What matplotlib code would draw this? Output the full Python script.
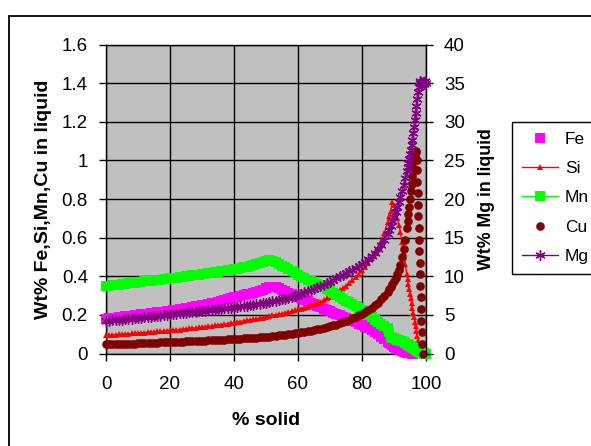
import matplotlib
matplotlib.use("Agg")
import matplotlib.pyplot as plt
from matplotlib.lines import Line2D
from matplotlib.patches import Rectangle

plt.rcParams['font.family'] = ['Liberation Sans', 'DejaVu Sans']

nan = float('nan')

# % solid (shared x values)
x_fs = [0, 1, 2, 3, 4, 5, 6, 7, 8, 9,
        10, 11, 12, 13, 14, 15, 16, 17, 18, 19,
        20, 21, 22, 23, 24, 25, 26, 27, 28, 29,
        30, 31, 32, 33, 34, 35, 36, 37, 38, 39,
        40, 41, 42, 43, 44, 45, 46, 47, 48, 49,
        50, 51, 52, 53, 54, 55, 56, 57, 58, 59,
        60, 61, 62, 63, 64, 65, 66, 67, 68, 69,
        70, 71, 72, 73, 74, 75, 76, 77, 78, 79,
        80, 81, 82, 83, 84, 85, 86, 87, 88,
        88.5, 89, 89.5, 90, 90.5, 91, 91.5, 92, 92.5, 93, 93.5, 94,
        94.25, 94.5, 94.75, 95, 95.25, 95.5, 95.75, 96, 96.25, 96.5, 96.75, 97,
        97.25, 97.5, 97.75, 98, 98.25, 98.5, 98.75, 99, 99.25, 99.5, 99.75, 100]

fe = [0.180, 0.182, 0.184, 0.186, 0.188, 0.190, 0.192, 0.194, 0.196, 0.198,
      0.200, 0.202, 0.204, 0.206, 0.208, 0.211, 0.213, 0.215, 0.217, 0.220,
      0.222, 0.224, 0.227, 0.229, 0.232, 0.235, 0.238, 0.241, 0.244, 0.247,
      0.250, 0.253, 0.257, 0.260, 0.264, 0.268, 0.272, 0.276, 0.281, 0.285,
      0.290, 0.294, 0.298, 0.302, 0.306, 0.310, 0.315, 0.320, 0.325, 0.331,
      0.337, 0.342, 0.345, 0.342, 0.337, 0.330, 0.323, 0.315, 0.307, 0.300,
      0.292, 0.285, 0.278, 0.270, 0.263, 0.255, 0.248, 0.240, 0.233, 0.225,
      0.218, 0.211, 0.204, 0.197, 0.190, 0.183, 0.176, 0.169, 0.162, 0.155,
      0.148, 0.139, 0.130, 0.120, 0.110, 0.099, 0.088, 0.074, 0.060,
      0.054, 0.048, 0.042, 0.036, 0.031, 0.026, 0.022, 0.018, 0.014, 0.010, 0.007, 0.005,
      0.004, 0.003, 0.002, 0.002, 0.001, 0.0, 0.0, 0.0, nan, nan, nan, nan,
      nan, nan, nan, nan, nan, nan, nan, nan, nan, nan, nan, nan]

si = [0.095, 0.096, 0.097, 0.098, 0.099, 0.100, 0.101, 0.102, 0.104, 0.105,
      0.106, 0.107, 0.108, 0.110, 0.111, 0.112, 0.114, 0.115, 0.117, 0.118,
      0.120, 0.121, 0.123, 0.124, 0.126, 0.128, 0.130, 0.131, 0.133, 0.135,
      0.137, 0.139, 0.141, 0.143, 0.145, 0.147, 0.150, 0.152, 0.155, 0.157,
      0.160, 0.162, 0.165, 0.168, 0.171, 0.174, 0.177, 0.180, 0.183, 0.186,
      0.190, 0.193, 0.197, 0.200, 0.204, 0.207, 0.211, 0.215, 0.219, 0.223,
      0.228, 0.233, 0.238, 0.243, 0.249, 0.255, 0.262, 0.269, 0.277, 0.286,
      0.295, 0.305, 0.315, 0.327, 0.340, 0.352, 0.365, 0.380, 0.395, 0.412,
      0.430, 0.450, 0.470, 0.494, 0.520, 0.548, 0.580, 0.625, 0.680,
      0.710, 0.740, 0.785, 0.770, 0.735, 0.700, 0.665, 0.630, 0.575, 0.520, 0.465, 0.410,
      0.385, 0.360, 0.335, 0.310, 0.285, 0.260, 0.235, 0.210, 0.188, 0.165, 0.140, 0.115,
      0.090, 0.065, 0.045, 0.025, 0.012, 0.005, nan, nan, nan, nan, nan, nan]

mn = [0.349, 0.351, 0.353, 0.355, 0.357, 0.359, 0.361, 0.363, 0.365, 0.367,
      0.369, 0.371, 0.373, 0.375, 0.377, 0.379, 0.381, 0.383, 0.385, 0.387,
      0.389, 0.391, 0.393, 0.395, 0.397, 0.400, 0.402, 0.404, 0.406, 0.409,
      0.411, 0.413, 0.416, 0.418, 0.421, 0.423, 0.426, 0.428, 0.431, 0.434,
      0.437, 0.440, 0.443, 0.446, 0.450, 0.454, 0.458, 0.462, 0.467, 0.472,
      0.478, 0.483, 0.480, 0.472, 0.464, 0.455, 0.446, 0.436, 0.427, 0.417,
      0.406, 0.398, 0.391, 0.383, 0.376, 0.368, 0.360, 0.353, 0.345, 0.334,
      0.323, 0.313, 0.303, 0.293, 0.284, 0.274, 0.265, 0.255, 0.245, 0.235,
      0.225, 0.212, 0.200, 0.188, 0.176, 0.164, 0.152, 0.141, 0.130,
      0.110, 0.085, 0.081, 0.078, 0.075, 0.072, 0.069, 0.066, 0.063, 0.060, 0.055, 0.050,
      0.048, 0.045, 0.043, 0.040, 0.038, 0.035, 0.033, 0.030, 0.027, 0.024, 0.020, 0.017,
      0.014, 0.012, 0.010, 0.008, 0.006, 0.005, 0.003, 0.002, 0.001, 0.0, 0.0, 0.0]

cu = [0.047, 0.047, 0.048, 0.048, 0.049, 0.049, 0.050, 0.050, 0.051, 0.051,
      0.052, 0.053, 0.054, 0.054, 0.055, 0.055, 0.056, 0.057, 0.058, 0.059,
      0.060, 0.060, 0.061, 0.061, 0.062, 0.063, 0.064, 0.064, 0.065, 0.065,
      0.066, 0.067, 0.068, 0.068, 0.069, 0.070, 0.071, 0.072, 0.073, 0.074,
      0.075, 0.076, 0.077, 0.078, 0.079, 0.080, 0.081, 0.082, 0.084, 0.085,
      0.087, 0.088, 0.090, 0.092, 0.094, 0.096, 0.098, 0.100, 0.103, 0.105,
      0.108, 0.110, 0.113, 0.116, 0.119, 0.122, 0.125, 0.128, 0.132, 0.136,
      0.140, 0.145, 0.150, 0.156, 0.162, 0.169, 0.176, 0.183, 0.190, 0.198,
      0.207, 0.216, 0.226, 0.238, 0.250, 0.264, 0.280, 0.298, 0.320,
      0.332, 0.345, 0.360, 0.375, 0.392, 0.410, 0.433, 0.460, 0.498, 0.540, 0.590, 0.650,
      0.685, 0.720, 0.760, 0.800, 0.840, 0.880, 0.920, 0.960, 0.995, 1.030, 1.045, 1.050,
      nan, nan, nan, nan, nan, nan, nan, nan, nan, nan, nan, nan]
# final drop of Cu near the end of solidification
cu_tail_x = [97.1, 97.2, 97.3, 97.4, 97.5, 97.6, 97.7, 97.8, 97.9, 98.0, 98.1, 98.2,
             98.3, 98.4, 98.5, 98.6, 98.8, 99.0]
cu_tail_y = [1.00, 0.95, 0.89, 0.83, 0.77, 0.71, 0.65, 0.59, 0.53, 0.47, 0.41, 0.35,
             0.29, 0.23, 0.17, 0.11, 0.05, 0.0]

mg = [4.20, 4.24, 4.28, 4.32, 4.36, 4.40, 4.44, 4.48, 4.52, 4.56,
      4.60, 4.64, 4.68, 4.72, 4.77, 4.81, 4.86, 4.90, 4.95, 5.00,
      5.05, 5.09, 5.14, 5.18, 5.23, 5.27, 5.32, 5.36, 5.41, 5.45,
      5.50, 5.54, 5.59, 5.63, 5.68, 5.73, 5.78, 5.83, 5.88, 5.93,
      5.98, 6.03, 6.09, 6.15, 6.21, 6.27, 6.34, 6.40, 6.47, 6.53,
      6.60, 6.67, 6.74, 6.82, 6.90, 7.00, 7.10, 7.22, 7.35, 7.47,
      7.60, 7.75, 7.90, 8.05, 8.20, 8.37, 8.55, 8.72, 8.90, 9.10,
      9.30, 9.52, 9.75, 9.97, 10.20, 10.42, 10.65, 10.87, 11.10, 11.35,
      11.60, 11.90, 12.20, 12.60, 13.00, 13.50, 14.00, 14.70, 15.50,
      16.0, 16.5, 17.1, 17.7, 18.3, 19.0, 19.6, 20.3, 21.0, 21.8, 22.7, 23.6,
      24.1, 24.7, 25.2, 25.8, 26.4, 27.0, 27.7, 28.5, 29.3, 30.2, 31.1, 32.0,
      32.9, 33.8, 34.5, 35.0, 35.3, 35.1, 35.0, 35.2, 34.9, 35.1, 35.3, 35.0]

left_ticks = [0, 0.2, 0.4, 0.6, 0.8, 1, 1.2, 1.4, 1.6]
left_ticklabels = ['0', '0.2', '0.4', '0.6', '0.8', '1', '1.2', '1.4', '1.6']
right_ticks = [0, 5, 10, 15, 20, 25, 30, 35, 40]
x_ticks = [0, 20, 40, 60, 80, 100]
series_names = ['Fe', 'Si', 'Mn', 'Cu', 'Mg']

W, H = 591, 446
fig = plt.figure(figsize=(W / 100, H / 100), dpi=100)
fig.patch.set_facecolor('white')
ax = fig.add_axes([106 / W, 1 - 353.5 / H, 320 / W, 309 / H])
ax.set_facecolor('#C0C0C0')

FS = 13.5
ax.set_xlim(0, 100)
ax.set_ylim(0, 1.6)
ax.set_xticks(x_ticks)
ax.set_yticks(left_ticks)
ax.set_yticklabels(left_ticklabels)
ax.grid(True, color='black', linewidth=1.0)
ax.set_axisbelow(True)
ax.tick_params(axis='both', direction='out', length=5, width=1, labelsize=FS, color='black')
ax.tick_params(axis='y', pad=8)
ax.tick_params(axis='x', pad=11)
for s in ax.spines.values():
    s.set_color('black')
    s.set_linewidth(1.0)

styles = {
    'Fe': dict(linestyle='none', marker='s', markersize=6.8, color='#FF00FF', markeredgewidth=0),
    'Si': dict(linestyle='-', linewidth=1, marker='^', markersize=4.8, color='#FF0000', markeredgewidth=0),
    'Mn': dict(linestyle='-', linewidth=1, marker='s', markersize=7.8, color='#00FF00', markeredgewidth=0),
    'Cu': dict(linestyle='none', marker='o', markersize=6.2, color='#800000', markeredgewidth=0),
    'Mg': dict(linestyle='-', linewidth=1, marker=(6, 2, 0), markersize=7.3, color='#800080', markeredgewidth=1),
}

ax.plot(x_fs, fe, clip_on=False, zorder=3, **styles['Fe'])
ax.plot(x_fs, si, clip_on=False, zorder=4, **styles['Si'])
ax.plot(x_fs, mn, clip_on=False, zorder=5, **styles['Mn'])
ax.plot(list(x_fs) + cu_tail_x, list(cu) + cu_tail_y, clip_on=False, zorder=6, **styles['Cu'])

ax2 = ax.twinx()
ax2.set_ylim(0, 40)
ax2.set_yticks(right_ticks)
ax2.tick_params(axis='y', direction='out', length=5, width=1, labelsize=FS, pad=8)
for s in ax2.spines.values():
    s.set_visible(False)
ax2.spines['right'].set_visible(True)
ax2.spines['right'].set_color('black')
ax2.plot(x_fs, mg, clip_on=False, zorder=7, **styles['Mg'])

ax.set_xlabel('% solid', fontsize=14, fontweight='bold', labelpad=14)
ax.set_ylabel('Wt% Fe,Si,Mn,Cu in liquid', fontsize=14, fontweight='bold', labelpad=7)
ax2.set_ylabel('Wt% Mg in liquid', fontsize=12.8, fontweight='bold', labelpad=9)

handles = [Line2D([], [], **styles[n]) for n in series_names]
leg = fig.legend(handles, series_names, loc='upper left',
                 bbox_to_anchor=(512 / W, 1 - 122 / H), fontsize=12.5, frameon=True,
                 fancybox=False, edgecolor='black', framealpha=1, handlelength=2.1,
                 handletextpad=0.4, labelspacing=0.82, borderpad=0.55, borderaxespad=0)
leg.get_frame().set_linewidth(1.0)

fig.patches.append(Rectangle((8.5 / W, -0.1), 1.2, (H - 16) / H + 0.1, transform=fig.transFigure,
                             fill=False, edgecolor='black', linewidth=1.3, clip_on=False))

fig.savefig('out.png', dpi=100)
